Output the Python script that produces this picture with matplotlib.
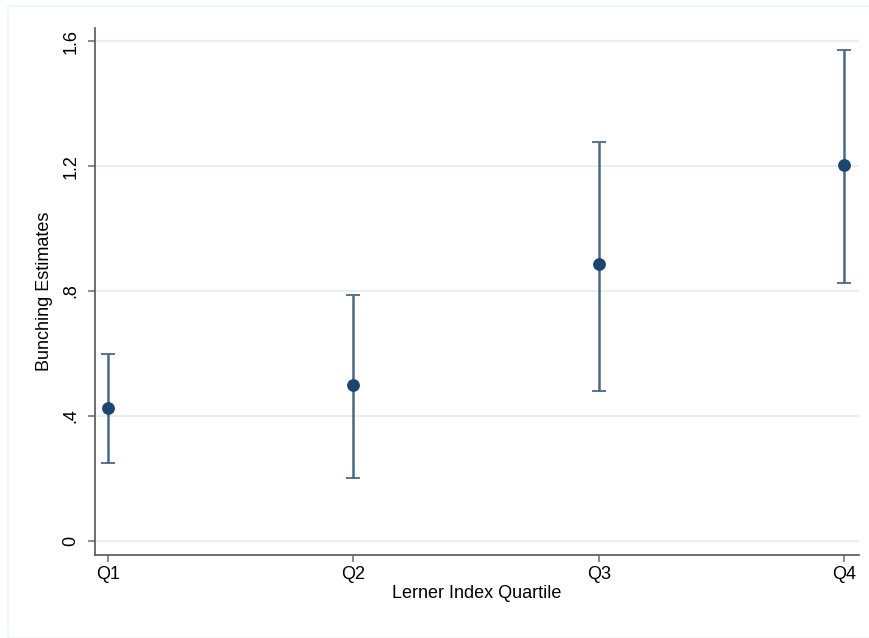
import matplotlib.pyplot as plt
from matplotlib.patches import Rectangle

plt.rcParams['font.family'] = ['Liberation Sans', 'DejaVu Sans']

# 数据
quartiles = ['Q1', 'Q2', 'Q3', 'Q4']
estimates = [0.427, 0.500, 0.885, 1.204]
ci_lower = [0.251, 0.201, 0.480, 0.826]
ci_upper = [0.600, 0.786, 1.277, 1.573]
y_ticks = [0, 0.4, 0.8, 1.2, 1.6]
y_tick_labels = ['0', '.4', '.8', '1.2', '1.6']

x = list(range(1, len(quartiles) + 1))
err_lo = [e - l for e, l in zip(estimates, ci_lower)]
err_hi = [u - e for e, u in zip(estimates, ci_upper)]

fig = plt.figure(figsize=(8.7, 6.38), dpi=100)
ax = fig.add_axes([95 / 870, 1 - 555 / 638, (859 - 95) / 870, (555 - 28) / 638])

# 外框
fig.patches.append(Rectangle((8 / 870, 0), 1, 1 - 6 / 638, transform=fig.transFigure,
                             fill=False, edgecolor='#eef3f3', linewidth=1.2))

for yt in y_ticks:
    ax.axhline(yt, color='#e4eef1', linewidth=1.3, zorder=0)

ax.errorbar(x, estimates, yerr=[err_lo, err_hi], fmt='none', ecolor='#48698b',
            elinewidth=1.8, capsize=5, capthick=1.3, zorder=2)
ax.plot(x, estimates, 'o', color='#1a476f', markersize=8.2, zorder=3)

ax.set_xlim(0.947, 4.061)
ax.set_ylim(-0.045, 1.642)
ax.set_xticks(x)
ax.set_xticklabels(quartiles, fontsize=13)
ax.set_yticks(y_ticks)
ax.set_yticklabels(y_tick_labels, fontsize=13, rotation=90, va='center')
ax.tick_params(axis='both', color='#777777', length=5, width=1.2)
ax.tick_params(axis='x', pad=3)
ax.tick_params(axis='y', pad=6)

ax.spines['top'].set_visible(False)
ax.spines['right'].set_visible(False)
for s in ['left', 'bottom']:
    ax.spines[s].set_color('#555555')
    ax.spines[s].set_linewidth(1.2)

ax.set_xlabel('Lerner Index Quartile', fontsize=13, labelpad=1)
ax.set_ylabel('Bunching Estimates', fontsize=13, labelpad=7)

fig.savefig('out.png', dpi=100)
